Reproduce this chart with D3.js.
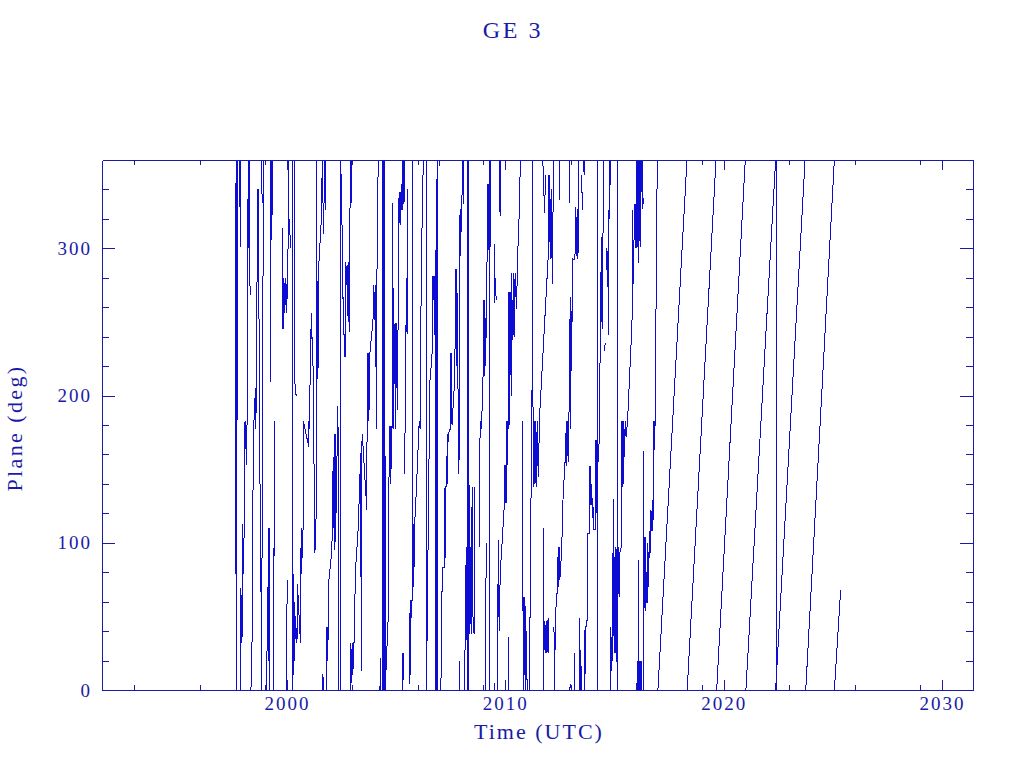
<!DOCTYPE html>
<html><head><meta charset="utf-8">
<script src="https://cdn.jsdelivr.net/npm/d3@7"></script>
<style>body{margin:0;background:#fff}svg{display:block}</style>
</head><body>
<svg id="chart" width="1024" height="768"></svg>
<script>
const chartTitle = "GE 3";
const xTitle = "Time (UTC)";
const yTitle = "Plane (deg)";
const xDomain = [1991.53, 2031.42];
const yDomain = [0, 360];
const xMajorTicks = [2000, 2010, 2020, 2030];
const xMinorTicks = [1993, 1996, 1999, 2003, 2006, 2009, 2013, 2016, 2019, 2023, 2026, 2029];
const yMajorTicks = [0, 100, 200, 300];
const yMinorTicks = [20, 40, 60, 80, 120, 140, 160, 180, 220, 240, 260, 280, 320, 340];

// [decimal year, plane deg]; null = gap in the trace
const plane1997 = [
[1997.63,79],[1997.67,360],[1997.68,0],[1997.72,218],[1997.73,224],[1997.74,360],[1997.84,360],[1997.86,301],[1997.875,360],null,
[1997.88,0],[1997.89,69],[1997.92,47],[1997.94,32],[1997.95,47],[1997.96,113],[1998.01,79],[1998.03,100],[1998.05,117],[1998.08,183],[1998.15,153],[1998.17,177],[1998.19,225],[1998.20,268],[1998.22,342],[1998.23,300],[1998.25,360],null,
[1998.29,360],[1998.31,268],null,
[1998.35,0],[1998.37,9],[1998.42,48],[1998.44,130],[1998.49,183],[1998.56,205],[1998.58,177],[1998.61,259],[1998.63,278],[1998.66,340],[1998.69,310],[1998.70,340],[1998.72,258],[1998.73,177],[1998.78,126],[1998.80,104],[1998.82,43],[1998.83,0],[1998.87,126],[1998.89,183],[1998.91,318],[1998.92,360],null,
[1998.85,360],[1998.86,331],null,
[1999.07,0],[1999.11,60],[1999.12,38],[1999.15,110],[1999.17,20],[1999.18,110],[1999.20,5],[1999.22,0],null,
[1999.24,209],[1999.25,360],[1999.27,306],[1999.29,360],[1999.31,306],[1999.33,360],null,
[1999.40,0],[1999.41,113],[1999.43,91],[1999.45,183],null,
[1999.81,314],[1999.82,245],[1999.86,280],[1999.90,256],[1999.95,280],[1999.99,256],[2000.05,300],[2000.06,340],[2000.07,300],[2000.08,360],null,
[2000.13,320],[2000.15,300],null,
[1999.98,0],[2000.01,75],null,
[2000.24,360],[2000.25,0],[2000.27,50],[2000.28,10],[2000.30,79],[2000.32,30],[2000.34,60],[2000.36,20],[2000.38,50],[2000.46,32],[2000.48,72],[2000.62,32],[2000.65,110],[2000.68,79],[2000.70,100],[2000.74,110],[2000.75,183],[2001.00,165],[2001.01,183],[2001.05,177],[2001.06,220],[2001.12,256],[2001.17,225],[2001.18,240],[2001.27,110],[2001.28,93],[2001.33,110],[2001.35,183],[2001.36,254],[2001.37,360],null,
[2000.33,360],[2000.34,333],[2000.35,360],[2000.36,209],[2000.42,200],null,
[2001.41,278],[2001.42,211],[2001.45,278],[2001.47,292],[2001.60,326],[2001.61,360],null,
[2001.64,360],[2001.66,310],[2001.69,323],[2001.73,360],[2001.75,326],[2001.78,360],null,
[2001.64,0],[2001.65,11],[2001.66,0],null,
[2001.81,0],[2001.82,43],[2001.83,5],[2001.84,43],[2001.86,20],[2001.90,47],[2001.91,73],[2002.06,95],[2002.07,110],[2002.12,158],[2002.13,110],[2002.18,174],[2002.20,95],[2002.23,174],[2002.25,120],[2002.33,193],[2002.34,177],[2002.35,95],[2002.36,3],[2002.37,0],null,
[2002.45,0],[2002.46,360],[2002.50,337],[2002.55,290],[2002.58,249],[2002.60,267],[2002.62,230],[2002.66,226],[2002.70,291],[2002.73,275],[2002.77,289],[2002.80,250],[2002.84,291],[2002.87,243],[2002.89,331],[2002.91,360],[2002.93,331],[2002.95,360],[2002.97,331],[2002.98,360]
];

const plane2003 = [
[2002.90,0],[2002.93,32],[2002.96,5],[2002.99,32],[2003.02,10],[2003.05,32],[2003.11,32],[2003.12,75],[2003.16,86],[2003.25,106],[2003.30,126],[2003.38,161],[2003.40,20],[2003.41,13],[2003.42,161],[2003.45,174],[2003.66,122],[2003.67,183],[2003.69,229],[2003.71,177],[2003.74,229],[2003.77,190],[2003.80,229],[2003.94,251],[2003.98,275],[2004.02,251],[2004.04,275],[2004.11,177],[2004.13,318],[2004.17,348],[2004.21,360],null,
[2004.26,0],[2004.28,22],[2004.30,0],[2004.36,0],[2004.37,360],[2004.40,0],[2004.43,360],[2004.46,0],[2004.48,360],[2004.50,0],[2004.63,47],[2004.64,138],[2004.70,150],[2004.72,179],[2004.75,140],[2004.78,179],[2004.80,150],[2004.82,196],[2004.83,200],[2004.85,331],[2004.87,177],[2004.95,249],[2004.98,177],[2005.02,249],[2005.05,190],[2005.09,249],[2005.10,316],[2005.14,338],[2005.18,316],[2005.20,338],[2005.26,326],[2005.28,360],[2005.30,326],[2005.33,360],[2005.36,330],[2005.40,360],null,
[2005.28,0],[2005.30,25],[2005.33,7],[2005.36,25],null,
[2005.40,147],[2005.41,183],[2005.45,242],[2005.47,280],[2005.50,242],[2005.52,280],[2005.53,322],[2005.54,340],null,
[2005.62,4],[2005.64,61],[2005.66,10],[2005.69,61],[2005.73,61],[2005.74,360],[2005.75,265],[2005.76,281],[2005.77,61],[2005.78,113],[2005.81,70],[2005.84,113],[2005.88,120],[2006.06,183],[2006.10,177],[2006.12,231],[2006.17,303],[2006.22,335],[2006.24,360],[2006.38,360],[2006.39,0],[2006.53,188],[2006.56,218],[2006.64,220],[2006.67,281],[2006.70,265],[2006.73,281],[2006.78,281],[2006.79,0],[2006.80,281],[2006.83,301],[2006.84,0],[2006.85,301],[2006.88,360],[2006.89,0],[2006.90,360],null,
[2007.00,360],[2007.01,356],null,
[2007.05,0],[2007.10,63],[2007.11,83],[2007.22,83],[2007.24,138],[2007.26,90],[2007.28,138],[2007.32,140],[2007.34,174],[2007.36,140],[2007.38,174],[2007.47,177],[2007.48,229],[2007.50,190],[2007.53,229],[2007.56,180],[2007.69,213],[2007.72,286],[2007.75,220],[2007.78,286],[2007.82,213],[2007.87,183],[2007.88,147],[2007.89,286],[2007.93,327],[2007.95,295],[2007.97,310],[2008.01,327],[2008.04,360],[2008.07,330],[2008.11,360],null,
[2007.91,0],[2007.92,20]
];

const plane2008 = [
[2008.15,0],[2008.16,49],[2008.19,81],[2008.24,97],[2008.25,0],[2008.27,360],[2008.29,340],[2008.30,0],[2008.32,360],[2008.33,330],[2008.34,97],[2008.36,38],[2008.38,97],[2008.40,45],[2008.42,97],[2008.45,38],[2008.48,138],[2008.52,50],[2008.57,38],[2008.58,138],null,
[2008.80,97],[2008.82,156],[2008.86,183],[2008.91,177],[2008.98,213],[2009.00,265],[2009.03,213],[2009.06,265],[2009.10,220],[2009.14,265],[2009.18,310],[2009.20,344],[2009.22,299],[2009.24,344],[2009.26,300],[2009.27,0],[2009.28,360],[2009.30,300],[2009.33,360],null,
[2009.11,0],[2009.12,100],null,
[2009.50,0],[2009.51,5],null,
[2009.50,303],[2009.51,263],[2009.55,280],[2009.58,265],null,
[2009.73,360],[2009.76,322],[2009.80,360],null,
[2009.66,0],[2009.67,102],[2009.72,40],[2009.75,70],[2009.78,75],[2009.82,97],[2009.84,97],[2009.96,127],[2009.98,153],[2010.00,127],[2010.03,153],[2010.05,127],[2010.07,183],[2010.09,153],[2010.11,183],[2010.14,177],[2010.17,270],[2010.20,180],[2010.23,270],[2010.27,200],[2010.29,283],[2010.33,238],[2010.37,283],[2010.40,240],[2010.45,283],[2010.51,259],[2010.59,306],[2010.64,324],[2010.69,360],null,
[2010.13,0],[2010.14,36],null,
[2010.78,183],[2010.79,106],[2010.81,63],[2010.82,0],[2010.85,63],[2010.87,10],[2010.90,63],[2010.93,0],[2010.97,40],[2011.00,0],[2011.09,0],[2011.10,49],[2011.16,49],[2011.17,110],[2011.20,183],[2011.24,217],[2011.25,360],[2011.26,200],[2011.28,183],[2011.30,138],[2011.33,183],[2011.36,140],[2011.40,183],[2011.44,138],[2011.48,183],[2011.52,145],[2011.56,183],[2011.96,293],[2011.98,350],[2012.00,300],[2012.03,350],[2012.06,293],[2012.10,340],[2012.14,293],[2012.17,276],[2012.19,338],[2012.20,360],null,
[2011.72,360],[2011.74,350],[2011.80,324],[2011.84,350],null,
[2012.49,360],[2012.50,333],null,
[2011.75,0],[2011.76,110],[2011.77,25],[2011.80,47],[2011.83,25],[2011.87,47],[2011.91,25],[2011.96,49],[2011.98,25],null,
[2012.23,43],[2012.24,0],[2012.30,43],[2012.33,60],[2012.40,70],[2012.42,97],[2012.44,70],[2012.47,97],[2012.50,75],[2012.59,97],[2012.60,106],[2012.65,133],[2012.73,152],[2012.80,183],[2012.82,152],[2012.85,183],[2012.88,155],[2012.95,217],[2012.97,267],[2012.99,177],[2013.01,250],[2013.04,217],[2013.06,267],[2013.08,250],[2013.09,293],[2013.19,292],[2013.22,328],[2013.26,295],[2013.29,327],[2013.33,293],[2013.34,328],[2013.36,360],null,
[2012.96,0],[2012.97,4],null,
[2012.95,360],[2012.96,331]
];

const plane2013 = [
[2013.49,350],[2013.50,338],[2013.54,338],[2013.55,326],null,
[2013.58,360],[2013.61,350],[2013.63,360],[2013.64,352],null,
[2013.18,0],[2013.19,25],null,
[2013.38,0],[2013.39,49],[2013.41,0],[2013.44,27],[2013.46,0],[2013.49,16],[2013.51,0],[2013.63,0],[2013.64,41],[2013.67,11],[2013.70,47],[2013.75,47],[2013.76,106],[2013.85,106],[2013.86,152],[2013.89,126],[2013.91,152],[2013.94,126],[2013.96,140],[2013.99,117],[2014.02,124],[2014.04,109],[2014.11,109],[2014.13,170],[2014.15,110],[2014.17,170],[2014.19,120],[2014.20,170],[2014.21,0],[2014.215,360],[2014.22,183],[2014.24,153],[2014.33,177],[2014.35,284],[2014.37,245],[2014.40,308],[2014.42,250],[2014.45,308],[2014.47,245],[2014.48,360],null,
[2014.56,230],[2014.57,236],null,
[2014.62,300],[2014.63,285],[2014.68,298],[2014.69,293],[2014.73,241],[2014.74,326],[2014.77,320],[2014.78,360],null,
[2014.81,360],[2014.82,343],null,
[2014.82,0],[2014.83,43],[2014.86,25],[2014.87,13],[2014.90,25],[2014.91,93],[2014.93,25],[2014.95,93],[2014.97,130],[2014.98,25],[2015.03,97],[2015.05,25],[2015.07,97],[2015.11,56],[2015.12,0],[2015.125,360],[2015.13,64],[2015.15,97],[2015.16,60],[2015.18,97],[2015.22,63],[2015.24,93],[2015.31,97],[2015.32,183],[2015.36,138],[2015.38,183],[2015.40,140],[2015.43,183],[2015.46,158],[2015.50,183],[2015.54,172],[2015.60,183],[2015.80,248],[2015.83,276],[2015.84,326],[2015.86,276],[2015.89,300],[2015.92,330],[2015.95,300],[2015.98,330],[2016.01,300],[2016.03,360],[2016.05,301],[2016.07,360],[2016.09,290],[2016.11,360],[2016.14,305],[2016.17,360],[2016.21,301],[2016.22,360],null,
[2016.03,0],[2016.04,20],[2016.06,0],[2016.08,20],[2016.09,0],[2016.10,88],[2016.11,0],[2016.14,20],[2016.17,0],[2016.20,20],[2016.23,0],[2016.25,20],null,
[2016.26,360],[2016.27,327],[2016.29,360],[2016.31,330],null,
[2016.31,0],[2016.32,162],[2016.33,50],[2016.34,150],[2016.36,56],[2016.38,104],[2016.40,56],[2016.42,104],[2016.43,54],[2016.45,67],[2016.48,59],[2016.50,100],[2016.52,59],[2016.55,90],[2016.57,70],[2016.59,108],[2016.62,90],[2016.65,100],[2016.67,122],[2016.70,108],[2016.73,129],[2016.75,108],[2016.78,122],[2016.81,183],[2016.84,163],[2016.86,183],[2016.96,360]
];

const planeDrift = [
[2016.99,0],[2018.32,360],null,
[2018.33,0],[2019.65,360],null,
[2019.68,0],[2020.99,360],null,
[2021.02,0],[2022.38,360],null,
[2022.42,0],[2022.43,360],null,
[2022.38,0],[2023.73,360],null,
[2023.76,0],[2025.07,360],null,
[2025.07,0],[2025.36,68]
];

const planeSeries = [plane1997, plane2003, plane2008, plane2013, planeDrift];

const W = 1024, H = 768;
const L = 102, R = 973, T = 160, B = 690;
const ink = "#1a1aa6";
const dataInk = "#0c0cd2";

const svg = d3.select("#chart");
const x = d3.scaleLinear().domain(xDomain).range([L, R]);
const y = d3.scaleLinear().domain(yDomain).range([B, T]);

svg.append("defs").append("clipPath").attr("id", "plotclip")
  .append("rect").attr("x", L).attr("y", T - 1).attr("width", R - L).attr("height", B - T + 2);

const line = d3.line()
  .defined(d => d !== null)
  .x(d => x(d[0]))
  .y(d => y(d[1]));

const g = svg.append("g").attr("clip-path", "url(#plotclip)");
g.selectAll("path.trace").data(planeSeries).join("path")
  .attr("class", "trace")
  .attr("d", line)
  .attr("fill", "none")
  .attr("stroke", dataInk)
  .attr("stroke-width", 1)
  .attr("shape-rendering", "crispEdges");

function styleAxis(sel) {
  sel.selectAll("path.domain").attr("stroke", ink).attr("stroke-width", 1).attr("shape-rendering", "crispEdges");
  sel.selectAll(".tick line").attr("stroke", ink).attr("stroke-width", 1).attr("shape-rendering", "crispEdges");
  sel.selectAll(".tick text").attr("fill", ink)
    .style("font-family", "'Liberation Serif', 'DejaVu Serif', serif")
    .style("font-size", "19px").style("letter-spacing", "2px");
}

// bottom
svg.append("g").attr("transform", `translate(0,${B})`)
  .call(d3.axisBottom(x).tickValues(xMinorTicks).tickSize(-5).tickSizeOuter(0).tickFormat(""))
  .call(styleAxis);
svg.append("g").attr("transform", `translate(0,${B})`)
  .call(d3.axisBottom(x).tickValues(xMajorTicks).tickSize(-10).tickSizeOuter(0).tickPadding(7).tickFormat(d3.format("d")))
  .call(styleAxis);
// top
svg.append("g").attr("transform", `translate(0,${T})`)
  .call(d3.axisTop(x).tickValues(xMinorTicks).tickSize(-5).tickSizeOuter(0).tickFormat(""))
  .call(styleAxis);
svg.append("g").attr("transform", `translate(0,${T})`)
  .call(d3.axisTop(x).tickValues(xMajorTicks).tickSize(-10).tickSizeOuter(0).tickFormat(""))
  .call(styleAxis);
// left
svg.append("g").attr("transform", `translate(${L},0)`)
  .call(d3.axisLeft(y).tickValues(yMinorTicks).tickSize(-7).tickSizeOuter(0).tickFormat(""))
  .call(styleAxis);
svg.append("g").attr("transform", `translate(${L},0)`)
  .call(d3.axisLeft(y).tickValues(yMajorTicks).tickSize(-13).tickSizeOuter(0).tickPadding(10).tickFormat(d3.format("d")))
  .call(styleAxis);
// right
svg.append("g").attr("transform", `translate(${R},0)`)
  .call(d3.axisRight(y).tickValues(yMinorTicks).tickSize(-7).tickSizeOuter(0).tickFormat(""))
  .call(styleAxis);
svg.append("g").attr("transform", `translate(${R},0)`)
  .call(d3.axisRight(y).tickValues(yMajorTicks).tickSize(-13).tickSizeOuter(0).tickFormat(""))
  .call(styleAxis);

const font = "'Liberation Serif', 'DejaVu Serif', serif";
svg.append("text").attr("x", 513).attr("y", 38).attr("text-anchor", "middle")
  .attr("fill", ink).style("font-family", font).style("font-size", "24px").style("letter-spacing", "2.6px")
  .text(chartTitle);
svg.append("text").attr("x", 539).attr("y", 739).attr("text-anchor", "middle")
  .attr("fill", ink).style("font-family", font).style("font-size", "22px").style("letter-spacing", "2px")
  .text(xTitle);
svg.append("text").attr("transform", "translate(22,428) rotate(-90)").attr("text-anchor", "middle")
  .attr("fill", ink).style("font-family", font).style("font-size", "22px").style("letter-spacing", "2.4px")
  .text(yTitle);
</script>
</body></html>
